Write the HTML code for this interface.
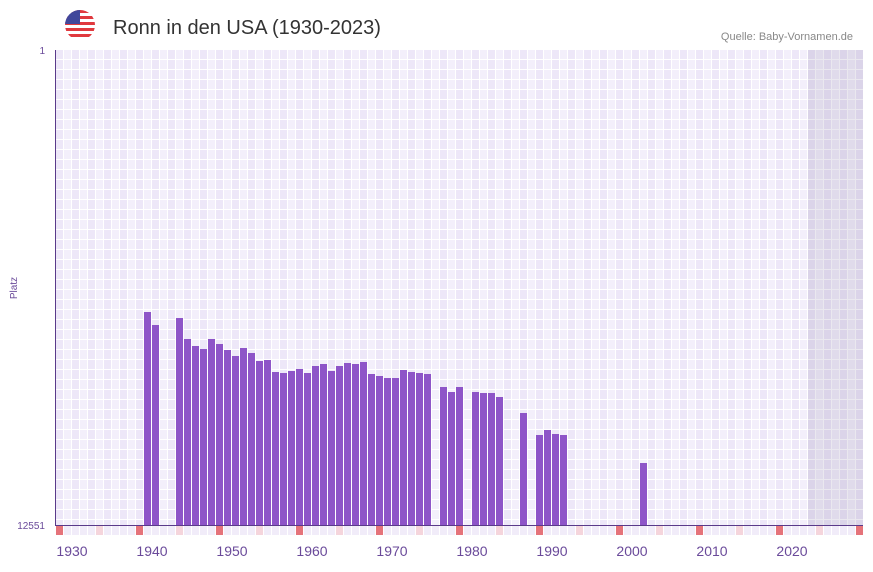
<!DOCTYPE html>
<html><head><meta charset="utf-8"><style>
body{margin:0;background:#fff;font-family:"Liberation Sans",sans-serif;}
</style></head><body>
<svg width="873" height="567" xmlns="http://www.w3.org/2000/svg" font-family="Liberation Sans, sans-serif">
<defs>
<pattern id="g" x="56" y="50" width="16" height="10" patternUnits="userSpaceOnUse">
<rect width="16" height="10" fill="#ffffff"/>
<rect x="0" y="0" width="7" height="9" fill="#ede7f8"/>
<rect x="8" y="0" width="7" height="9" fill="#f3effb"/>
</pattern>
<clipPath id="fc"><circle cx="80" cy="25" r="15"/></clipPath>
</defs>
<rect x="56" y="50" width="807" height="475" fill="url(#g)"/>
<rect x="808" y="50" width="55" height="475" fill="#8a7fa8" opacity="0.18"/>
<g clip-path="url(#fc)">
<rect x="65" y="10" width="30" height="30" fill="#fff"/>
<g fill="#e0393e"><rect x="65" y="10" width="30" height="3"/><rect x="65" y="16" width="30" height="3"/><rect x="65" y="22" width="30" height="3"/><rect x="65" y="28" width="30" height="3"/><rect x="65" y="34" width="30" height="3"/></g>
<rect x="65" y="10" width="15" height="14" fill="#41479b"/>
</g>
<text x="113" y="34" font-size="20" fill="#333">Ronn in den USA (1930-2023)</text>
<text x="853" y="40" font-size="11" fill="#888" text-anchor="end">Quelle: Baby-Vornamen.de</text>
<text x="45" y="54" font-size="10" fill="#6a4a9a" text-anchor="end">1</text>
<text x="45" y="529" font-size="10" fill="#6a4a9a" text-anchor="end">12551</text>
<text x="17" y="288" font-size="10" fill="#6a4a9a" text-anchor="middle" transform="rotate(-90 17 288)">Platz</text>
<g fill="#8e55c8" id="bars"></g>
<g id="marks"></g>
<line x1="55.5" y1="50" x2="55.5" y2="525" stroke="#5a3a8a" stroke-width="1"/>
<line x1="55" y1="525.5" x2="863" y2="525.5" stroke="#5a3a8a" stroke-width="1"/>
<g font-size="14" fill="#6a4a9a" text-anchor="middle">
<text x="72" y="556">1930</text><text x="152" y="556">1940</text><text x="232" y="556">1950</text><text x="312" y="556">1960</text><text x="392" y="556">1970</text><text x="472" y="556">1980</text><text x="552" y="556">1990</text><text x="632" y="556">2000</text><text x="712" y="556">2010</text><text x="792" y="556">2020</text>
</g>
<script>
var d={1940:312,1941:325,1944:318,1945:339,1946:346,1947:349,1948:339,1949:344,1950:350,1951:356,1952:348,1953:353,1954:361,1955:360,1956:372,1957:373,1958:371,1959:369,1960:373,1961:366,1962:364,1963:371,1964:366,1965:363,1966:364,1967:362,1968:374,1969:376,1970:378,1971:378,1972:370,1973:372,1974:373,1975:374,1977:387,1978:392,1979:387,1981:392,1982:393,1983:393,1984:397,1987:413,1989:435,1990:430,1991:434,1992:435,2002:463};
var ns="http://www.w3.org/2000/svg",b=document.getElementById("bars"),m=document.getElementById("marks");
for(var y in d){var r=document.createElementNS(ns,"rect");var x=56+8*(y-1929);r.setAttribute("x",x);r.setAttribute("y",d[y]);r.setAttribute("width",7);r.setAttribute("height",525-d[y]);b.appendChild(r);}
for(var i=0;i<=100;i++){var r=document.createElementNS(ns,"rect");r.setAttribute("x",56+8*i);r.setAttribute("y",526);r.setAttribute("width",7);r.setAttribute("height",9);
var c=(i%10==0)?"#e5737a":(i%10==5?"#f5d5dc":"#f1ecf9");r.setAttribute("fill",c);m.appendChild(r);}
</script>
</svg>
</body></html>
